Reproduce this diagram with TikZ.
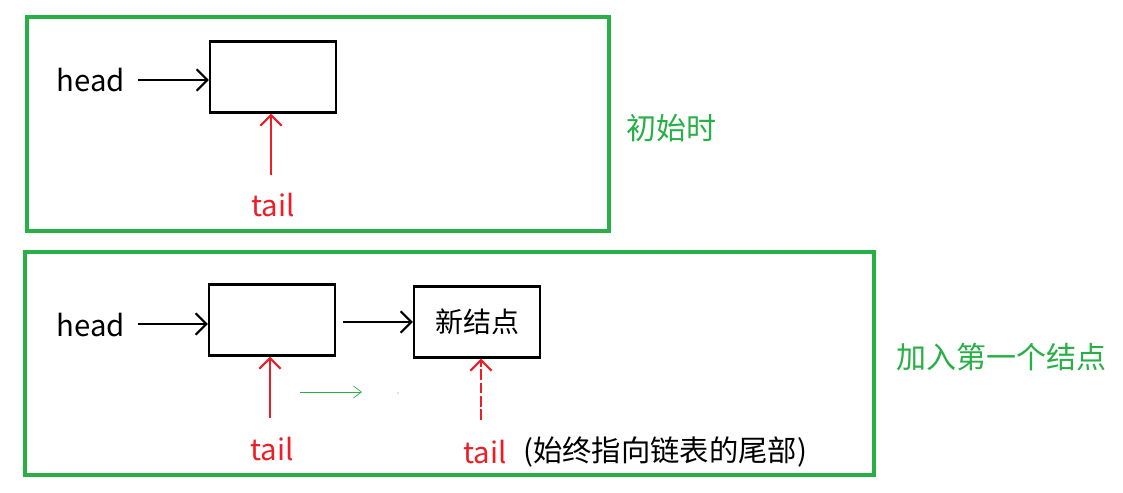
\documentclass[tikz,border=0pt]{standalone}
\usepackage{fontspec}
\setmainfont{Noto Sans CJK SC}
\usetikzlibrary{arrows.meta, positioning}
\definecolor{frameGreen}{RGB}{40,175,70}
\definecolor{tailRed}{RGB}{235,30,40}
\begin{document}
\begin{tikzpicture}[
    x=0.75pt, y=-0.75pt,
    frame/.style={draw=frameGreen, line width=2.4pt},
    cell/.style={draw, line width=1.8pt, minimum width=94.5pt, minimum height=53pt, font=\fontsize{21}{24}\selectfont},
    word/.style={font=\fontsize{22}{26}\selectfont, inner sep=0pt},
    note/.style={font=\fontsize{22.5}{26}\selectfont, text=frameGreen, inner sep=0pt},
    arrow/.style={-{Straight Barb[length=8pt,width=16pt]}, line width=1.6pt},
    tailarrow/.style={arrow, draw=tailRed}
]
\useasboundingbox (0,0) rectangle (1123,492);

% Frames
\draw[frame] (27,17) rectangle (609,231);
\draw[frame] (25,252) rectangle (874,475);

% Initial state
\node[cell] (first) at (273,77) {};
\node[word] (head) at (91,80) {head};
\node[word, text=tailRed] (tail) at (273,205) {tail};
\coordinate (h0) at (138,80);
\draw[arrow] (h0) -- (h0 -| first.west);
\coordinate (t0) at (271,175);
\draw[tailarrow] (t0) -- (t0 |- first.south);
\node[note] (initNote) at (671,128) {初始时};

% After first insertion
\node[cell] (head2node) at (272,320) {};
\node[cell] (newnode) at (477,322) {新结点};
\node[word] (head2) at (91,325) {head};
\coordinate (h1) at (138,324);
\draw[arrow] (h1) -- (h1 -| head2node.west);
\coordinate (n0) at (343,322);
\draw[arrow] (n0) -- (n0 -| newnode.west);
\node[word, text=tailRed] (tail2) at (272,449) {tail};
\coordinate (t1) at (270,418);
\draw[tailarrow] (t1) -- (t1 |- head2node.south);
\node[word, text=tailRed] (tail3) at (485,452) {tail};
\coordinate (t2) at (481,420);
\draw[tailarrow, dash pattern=on 8pt off 2pt] (t2) -- (t2 |- newnode.south);
\node[word, anchor=west] (tailNote) at (523,452) {(始终指向链表的尾部)};
\coordinate (move0) at (300,392);
\coordinate (move1) at (362,392);
\draw[frameGreen, line width=0.5pt, -{Straight Barb[length=6pt,width=9pt]}] (move0) -- (move1);
\fill[frameGreen] (398,393) circle (0.6);
\node[note] (addNote) at (1001,357) {加入第一个结点};
\end{tikzpicture}
\end{document}
